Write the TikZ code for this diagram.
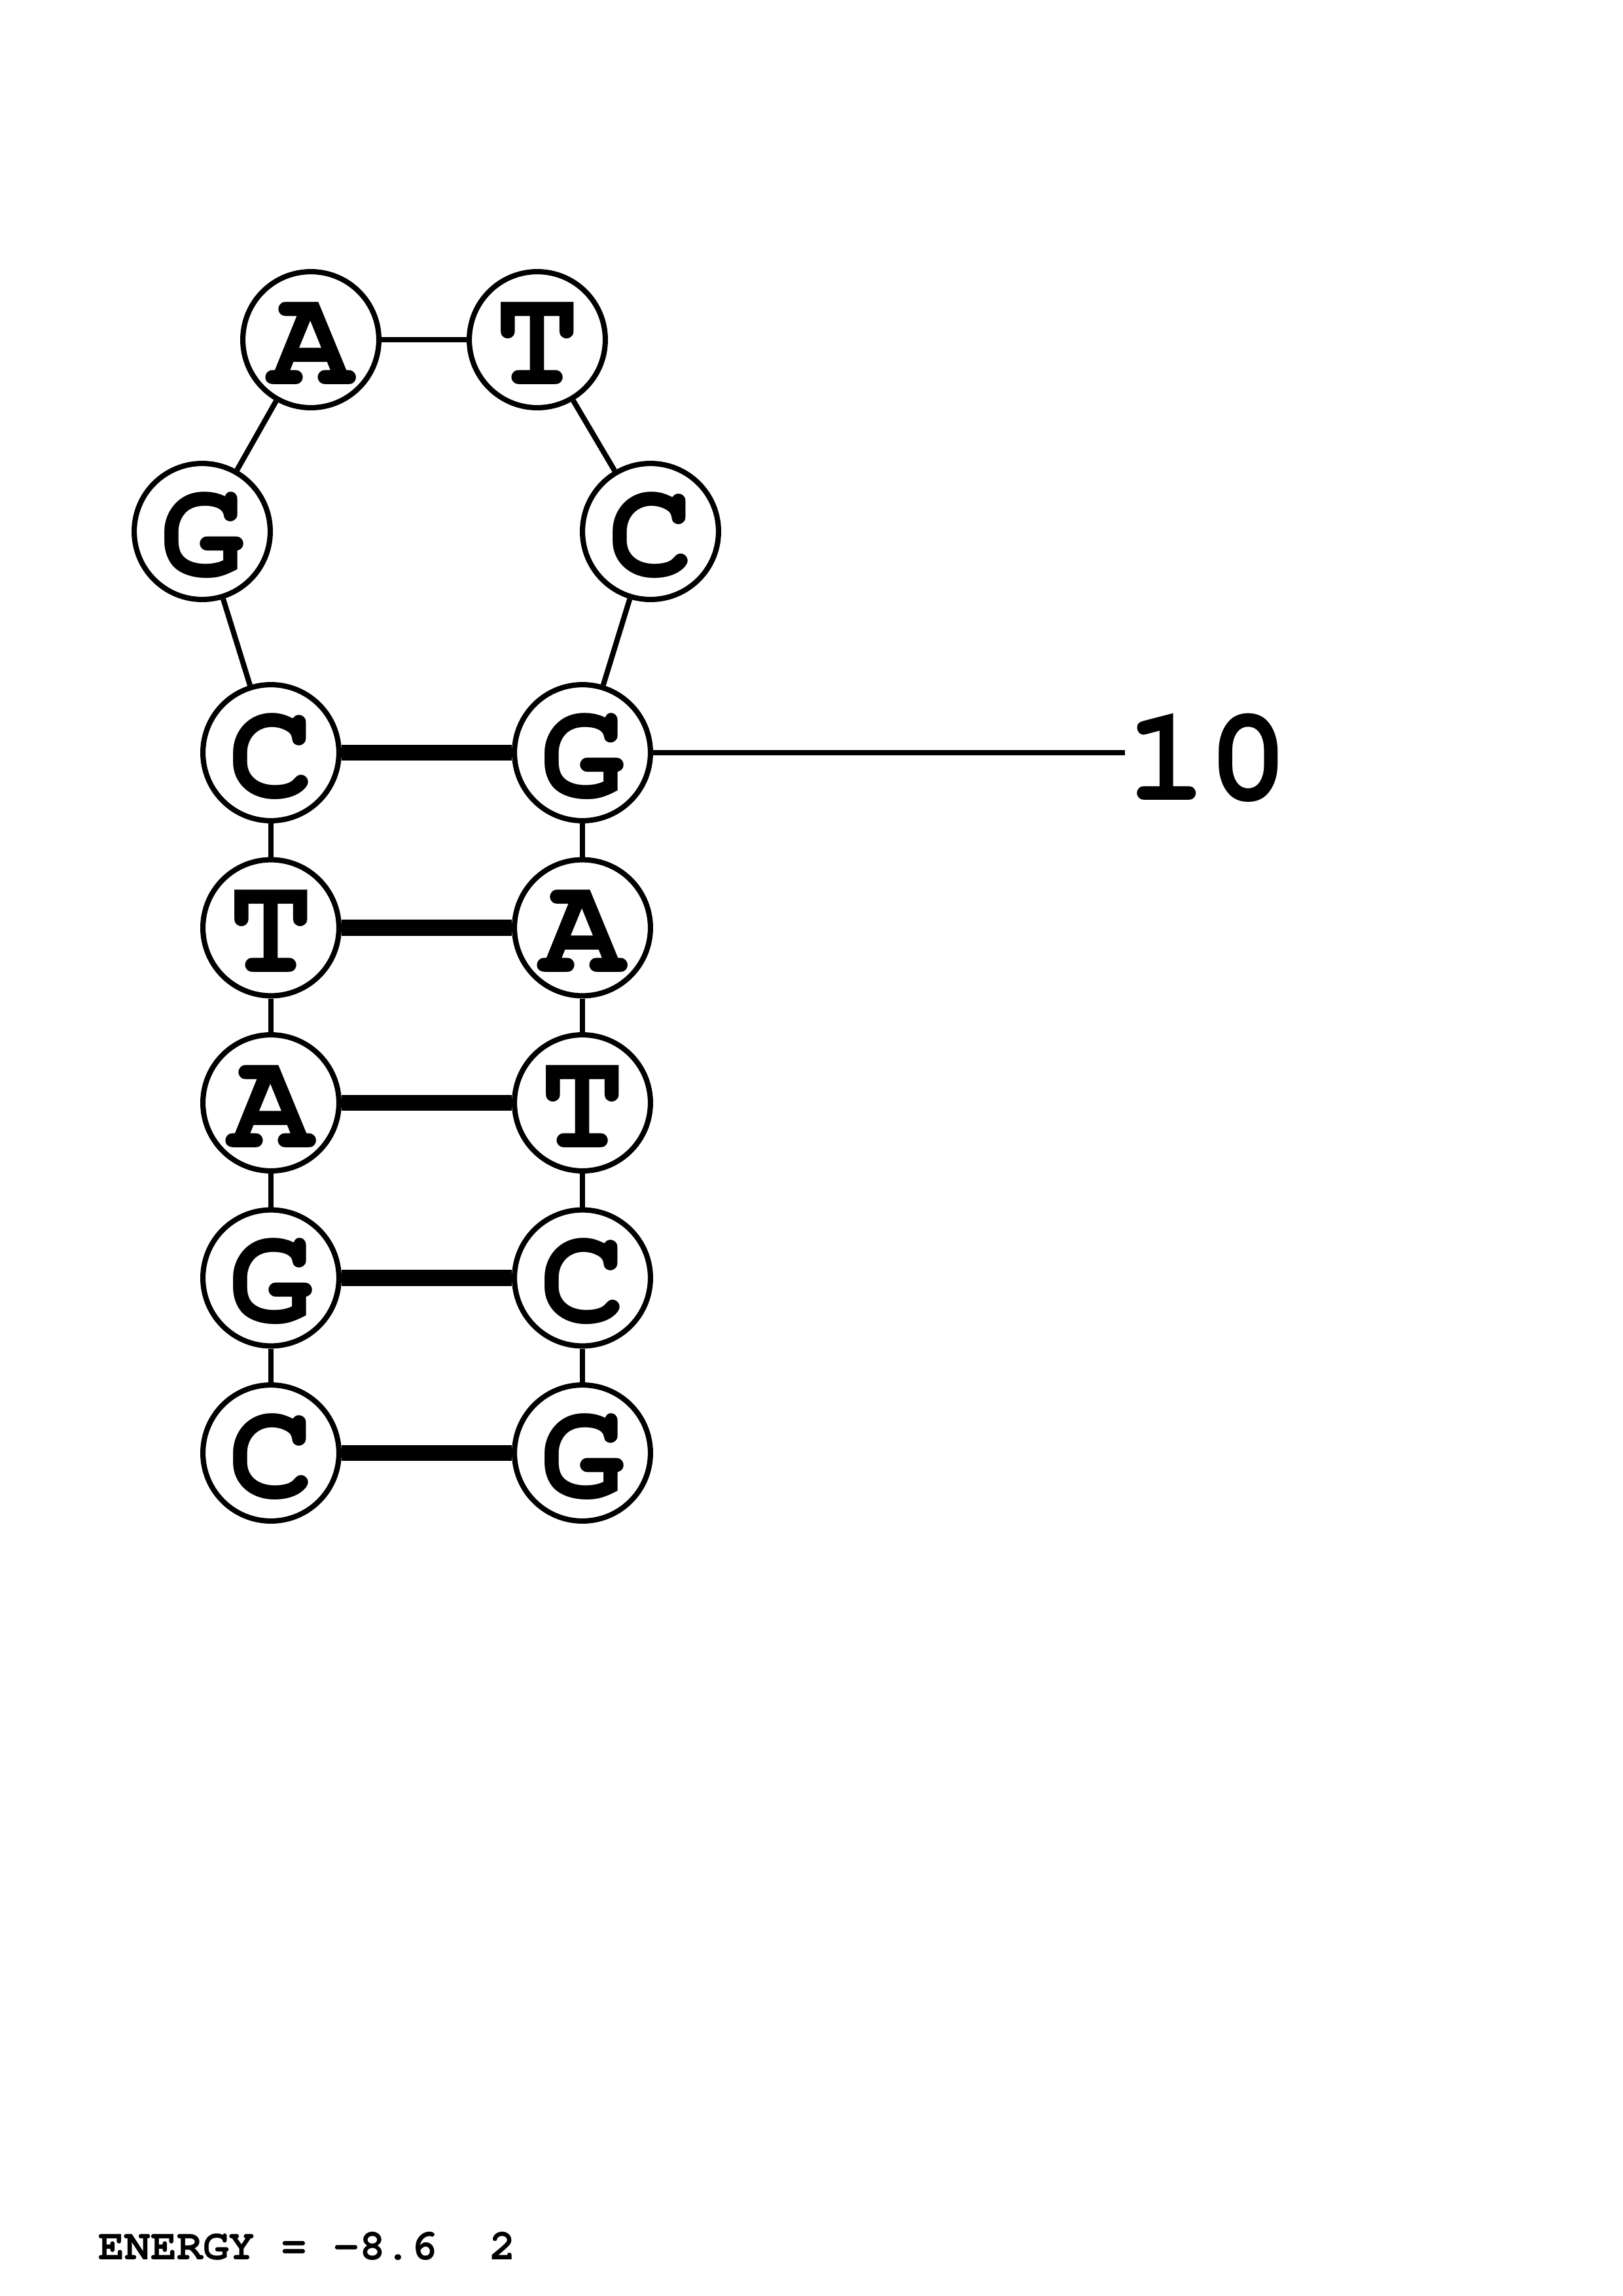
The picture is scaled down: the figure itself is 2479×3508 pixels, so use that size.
\documentclass[tikz,border=0pt]{standalone}
\usepackage[T1]{fontenc}
\usepackage{tikz}
\usetikzlibrary{positioning}
\newcommand{\basefont}[1]{\fontsize{#1}{#1}\fontfamily{pcr}\bfseries\selectfont}
\tikzstyle{base}=[circle,draw=black,line width=1.95pt,fill=white,minimum size=50.1pt,inner sep=0pt,font=\basefont{52},text height=32.8pt,text depth=0pt]
\tikzstyle{backbone} = [draw,line width=1.95pt]
\tikzstyle{pairing} = [draw,line width=6pt]
\tikzstyle{numlabel} = [inner sep=0pt,anchor=base west,font=\basefont{50}]

\begin{document}
\begin{tikzpicture}[x=0.084711mm,y=-0.084711mm]
    \useasboundingbox (0,0) rectangle (2479,3508);

    % stem, left strand (5' end at the bottom)
    \foreach \pos/\name/\letter in {{(414,2220)/c1/C}, {(414,1952.5)/g2/G}, {(414,1685)/a3/A}, {(414,1417.5)/t4/T}, {(414,1150)/c5/C}}
            \node[base] (\name) at \pos {\letter};
    % hairpin loop
    \foreach \pos/\name/\letter in {{(309,812)/g6/G}, {(475,519)/a7/A}, {(821,519)/t8/T}, {(994,812)/c9/C}}
            \node[base] (\name) at \pos {\letter};
    % stem, right strand
    \foreach \pos/\name/\letter in {{(890,1150)/g10/G}, {(890,1417.5)/a11/A}, {(890,1685)/t12/T}, {(890,1952.5)/c13/C}, {(890,2220)/g14/G}}
            \node[base] (\name) at \pos {\letter};

    % Connect bases along the chain
    \foreach \source/ \dest in {c1/g2, g2/a3, a3/t4, t4/c5, c5/g6, g6/a7, a7/t8, t8/c9, c9/g10, g10/a11, a11/t12, t12/c13, c13/g14}
            \path[backbone] (\source) -- (\dest);
    % base pairs
    \foreach \source/ \dest in {c1/g14, g2/c13, a3/t12, t4/a11, c5/g10}
            \path[pairing] (\source) -- (\dest);

    % position mark
    \coordinate (tick10) at (1719,1150);
    \path[backbone] (g10) -- (tick10);
    \node[numlabel] (num10) at (1720,1222) {10};

    \node[inner sep=0pt, anchor=base west, font=\basefont{16}] (energy) at (150,3452) {ENERGY = -8.6\ \ 2};

\end{tikzpicture}
\end{document}
